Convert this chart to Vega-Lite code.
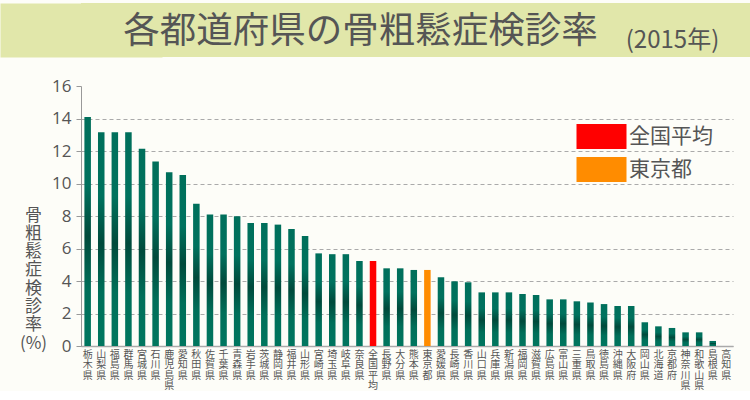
{
  "$schema": "https://vega.github.io/schema/vega-lite/v6.json",
  "background": "#fdfdf8",
  "padding": {"left": 19, "right": 0, "top": 3, "bottom": 0},
  "spacing": 20,
  "config": {"view": {"stroke": null}, "font": "Noto Sans CJK JP"},
  "vconcat": [
    {
      "width": 669,
      "height": 54,
      "view": {"fill": "#e1e7aa", "stroke": null},
      "data": {"values": [{"k": "banner", "main": "各都道府県の骨粗鬆症検診率", "sub": "(2015年)"}]},
      "encoding": {
        "y": {
          "field": "k", "type": "nominal",
          "axis": {"title": null, "labels": false, "ticks": false, "grid": false, "domainWidth": 162, "domainColor": "#e1e7aa", "domainCap": "butt"}
        }
      },
      "layer": [
        {
          "mark": {"type": "text", "font": "Noto Sans CJK JP", "fontSize": 36.5, "color": "#555555", "align": "center", "baseline": "middle", "dx": -55, "dy": 2},
          "encoding": {"text": {"field": "main"}}
        },
        {
          "mark": {"type": "text", "font": "Noto Sans CJK JP", "fontSize": 24, "color": "#555555", "align": "center", "baseline": "middle", "dx": 257, "dy": 11},
          "encoding": {"text": {"field": "sub"}}
        }
      ]
    },
    {
      "width": 652,
      "height": 260,
      "data": {"values": [
        {"pref": "栃木県", "rate": 14.1, "hl": ""},
        {"pref": "山梨県", "rate": 13.15, "hl": ""},
        {"pref": "福島県", "rate": 13.15, "hl": ""},
        {"pref": "群馬県", "rate": 13.15, "hl": ""},
        {"pref": "宮城県", "rate": 12.14, "hl": ""},
        {"pref": "石川県", "rate": 11.36, "hl": ""},
        {"pref": "鹿児島県", "rate": 10.69, "hl": ""},
        {"pref": "愛知県", "rate": 10.52, "hl": ""},
        {"pref": "秋田県", "rate": 8.76, "hl": ""},
        {"pref": "佐賀県", "rate": 8.1, "hl": ""},
        {"pref": "千葉県", "rate": 8.1, "hl": ""},
        {"pref": "青森県", "rate": 7.98, "hl": ""},
        {"pref": "岩手県", "rate": 7.57, "hl": ""},
        {"pref": "茨城県", "rate": 7.57, "hl": ""},
        {"pref": "静岡県", "rate": 7.47, "hl": ""},
        {"pref": "福井県", "rate": 7.2, "hl": ""},
        {"pref": "山形県", "rate": 6.77, "hl": ""},
        {"pref": "宮崎県", "rate": 5.7, "hl": ""},
        {"pref": "埼玉県", "rate": 5.65, "hl": ""},
        {"pref": "岐阜県", "rate": 5.65, "hl": ""},
        {"pref": "奈良県", "rate": 5.23, "hl": ""},
        {"pref": "全国平均", "rate": 5.23, "hl": "全国平均"},
        {"pref": "長野県", "rate": 4.78, "hl": ""},
        {"pref": "大分県", "rate": 4.78, "hl": ""},
        {"pref": "熊本県", "rate": 4.68, "hl": ""},
        {"pref": "東京都", "rate": 4.68, "hl": "東京都"},
        {"pref": "愛媛県", "rate": 4.23, "hl": ""},
        {"pref": "長崎県", "rate": 3.98, "hl": ""},
        {"pref": "香川県", "rate": 3.92, "hl": ""},
        {"pref": "山口県", "rate": 3.3, "hl": ""},
        {"pref": "兵庫県", "rate": 3.3, "hl": ""},
        {"pref": "新潟県", "rate": 3.3, "hl": ""},
        {"pref": "福岡県", "rate": 3.2, "hl": ""},
        {"pref": "滋賀県", "rate": 3.14, "hl": ""},
        {"pref": "広島県", "rate": 2.87, "hl": ""},
        {"pref": "富山県", "rate": 2.87, "hl": ""},
        {"pref": "三重県", "rate": 2.75, "hl": ""},
        {"pref": "鳥取県", "rate": 2.67, "hl": ""},
        {"pref": "徳島県", "rate": 2.58, "hl": ""},
        {"pref": "沖縄県", "rate": 2.46, "hl": ""},
        {"pref": "大阪府", "rate": 2.46, "hl": ""},
        {"pref": "岡山県", "rate": 1.46, "hl": ""},
        {"pref": "北海道", "rate": 1.21, "hl": ""},
        {"pref": "京都府", "rate": 1.11, "hl": ""},
        {"pref": "神奈川県", "rate": 0.84, "hl": ""},
        {"pref": "和歌山県", "rate": 0.84, "hl": ""},
        {"pref": "島根県", "rate": 0.31, "hl": ""},
        {"pref": "高知県", "rate": 0, "hl": ""}
      ]},
      "encoding": {
        "x": {
          "field": "pref", "type": "nominal",
          "sort": ["栃木県", "山梨県", "福島県", "群馬県", "宮城県", "石川県", "鹿児島県", "愛知県", "秋田県", "佐賀県", "千葉県", "青森県", "岩手県", "茨城県", "静岡県", "福井県", "山形県", "宮崎県", "埼玉県", "岐阜県", "奈良県", "全国平均", "長野県", "大分県", "熊本県", "東京都", "愛媛県", "長崎県", "香川県", "山口県", "兵庫県", "新潟県", "福岡県", "滋賀県", "広島県", "富山県", "三重県", "鳥取県", "徳島県", "沖縄県", "大阪府", "岡山県", "北海道", "京都府", "神奈川県", "和歌山県", "島根県", "高知県"],
          "scale": {"paddingInner": 0.52, "paddingOuter": 0.25},
          "axis": {
            "title": null, "labelAngle": 0, "ticks": false,
            "labelExpr": "split(datum.label, '')",
            "labelFont": "Noto Sans CJK JP", "labelFontSize": 10, "labelLineHeight": 10.5,
            "labelColor": "#555555", "labelBaseline": "top", "labelPadding": 3,
            "domainColor": "#aaaaaa", "domainWidth": 1.5
          }
        },
        "y": {
          "field": "rate", "type": "quantitative",
          "scale": {"domain": [0, 16], "nice": false},
          "axis": {
            "values": [0, 2, 4, 6, 8, 10, 12, 14, 16],
            "title": ["骨", "粗", "鬆", "症", "検", "診", "率", "(%)"],
            "titleAngle": 0, "titleAlign": "center", "titleBaseline": "middle",
            "titleX": -48, "titleY": 129, "titleFont": "Noto Sans CJK JP", "titleFontSize": 17,
            "titleFontWeight": "normal", "titleLineHeight": 18.3, "titleColor": "#555555",
            "labelFont": "Open Sans", "labelFontSize": 17, "labelColor": "#555555", "labelPadding": 5,
            "tickSize": 5, "tickColor": "#999999", "domainColor": "#999999",
            "gridColor": "#aaaaaa", "gridDash": [4, 3], "gridWidth": 1,
            "gridOpacity": {"condition": {"test": "datum.value == 16", "value": 0}, "value": 1}
          }
        }
      },
      "layer": [
        {
          "transform": [{"filter": "datum.hl == ''"}],
          "mark": {
            "type": "bar",
            "color": {
              "gradient": "linear", "x1": 0, "y1": 0, "x2": 0, "y2": 1,
              "stops": [
                {"offset": 0, "color": "#006f5b"},
                {"offset": 0.3, "color": "#00725e"},
                {"offset": 0.52, "color": "#004a3b"},
                {"offset": 0.75, "color": "#006f59"},
                {"offset": 1, "color": "#00765f"}
              ]
            }
          }
        },
        {
          "transform": [{"filter": "datum.hl != ''"}],
          "mark": {"type": "bar"},
          "encoding": {
            "color": {
              "field": "hl", "type": "nominal",
              "scale": {"domain": ["全国平均", "東京都"], "range": ["#ff0000", "#ff8c00"]},
              "legend": {
                "title": null, "orient": "none", "legendX": 508, "legendY": 121,
                "symbolType": "M-2,-1H2V1H-2Z", "symbolSize": 625, "symbolStrokeWidth": 0,
                "symbolOpacity": 1, "labelOffset": 15, "rowPadding": 8,
                "labelFont": "Noto Sans CJK JP", "labelFontSize": 21, "labelColor": "#555555"
              }
            }
          }
        }
      ]
    }
  ]
}
